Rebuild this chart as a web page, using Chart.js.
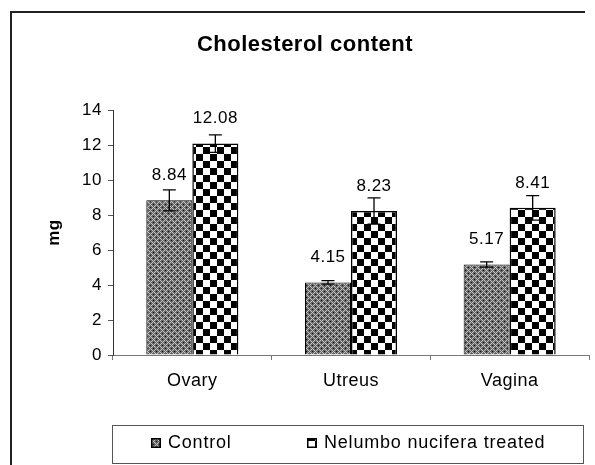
<!DOCTYPE html>
<html>
<head>
<meta charset="utf-8">
<script src="https://cdn.jsdelivr.net/npm/chart.js@4.4.0/dist/chart.umd.min.js"></script>
<style>
  html, body { margin: 0; padding: 0; background: #fff; }
</style>
</head>
<body>
<canvas id="myChart" width="595" height="465"></canvas>
<script>
const categories = ['Ovary', 'Utreus', 'Vagina'];
const seriesNames = ['Control', 'Nelumbo nucifera treated'];
const controlValues = [8.84, 4.15, 5.17];
const treatedValues = [12.08, 8.23, 8.41];
const controlErrors = [0.6, 0.1, 0.15];
const treatedErrors = [0.5, 0.75, 0.7];
const yTicks = [0, 2, 4, 6, 8, 10, 12, 14];
const chartTitle = 'Cholesterol content';
const yAxisLabel = 'mg';

const FONT = 'Liberation Sans, Arial, sans-serif';

// small tiles used as bar fills
function makePattern(size, paint) {
    const tile = document.createElement('canvas');
    tile.width = size;
    tile.height = size;
    paint(tile.getContext('2d'), size);
    return tile.getContext('2d').createPattern(tile, 'repeat');
}

const checkerFill = makePattern(14, (g) => {
    g.fillStyle = '#fff';
    g.fillRect(0, 0, 14, 14);
    g.fillStyle = '#000';
    g.fillRect(0, 0, 7, 7);
    g.fillRect(7, 7, 7, 7);
});

const hatchFill = makePattern(6, (g, n) => {
    for (let x = 0; x < n; x++) {
        for (let y = 0; y < n; y++) {
            const d1 = (x + y) % n;
            const d2 = (x - y + n) % n;
            let c = '#666';
            if (d1 === 0 || d2 === 0) c = '#c0c0c0';
            else if (d1 === 3 && d2 === 3) c = '#111';
            g.fillStyle = c;
            g.fillRect(x, y, 1, 1);
        }
    }
});

const errors = [controlErrors, treatedErrors];

const extras = {
    id: 'extras',
    beforeDraw(chart) {
        chart.ctx.letterSpacing = '0.5px';
    },
    afterDatasetsDraw(chart) {
        const ctx = chart.ctx;
        const y = chart.scales.y;
        ctx.save();
        chart.data.datasets.forEach((ds, di) => {
            chart.getDatasetMeta(di).data.forEach((bar, i) => {
                const v = ds.data[i];
                const e = errors[di][i];
                const top = y.getPixelForValue(v + e);
                const bot = y.getPixelForValue(v - e);
                ctx.strokeStyle = '#000';
                ctx.lineWidth = 1.3;
                ctx.beginPath();
                ctx.moveTo(bar.x, top);
                ctx.lineTo(bar.x, bot);
                ctx.moveTo(bar.x - 6.5, top);
                ctx.lineTo(bar.x + 6.5, top);
                ctx.moveTo(bar.x - 6.5, bot);
                ctx.lineTo(bar.x + 6.5, bot);
                ctx.stroke();

                ctx.fillStyle = '#000';
                ctx.font = '17px ' + FONT;
                ctx.textAlign = 'center';
                ctx.textBaseline = 'middle';
                ctx.fillText(v.toFixed(2), bar.x, bar.y - 25);
            });
        });
        ctx.restore();
    },
    afterDraw(chart) {
        const ctx = chart.ctx;
        ctx.save();
        // outer frame (right and bottom edges are cut off in the source)
        ctx.strokeStyle = '#222';
        ctx.lineWidth = 2;
        ctx.beginPath();
        ctx.moveTo(11, 470);
        ctx.lineTo(11, 12);
        ctx.lineTo(585, 12);
        ctx.stroke();

        ctx.fillStyle = '#000';
        ctx.font = 'bold 22px ' + FONT;
        ctx.letterSpacing = '0.5px';
        ctx.textAlign = 'center';
        ctx.textBaseline = 'middle';
        ctx.fillText(chartTitle, 305, 45);

        // legend box
        ctx.strokeStyle = '#555';
        ctx.lineWidth = 1;
        ctx.strokeRect(112.5, 425.5, 471, 38);
        const markX = [151, 307];
        ctx.font = '18px ' + FONT;
        ctx.letterSpacing = '0.8px';
        ctx.textAlign = 'left';
        chart.data.datasets.forEach((ds, di) => {
            ctx.fillStyle = ds.backgroundColor;
            ctx.fillRect(markX[di], 438, 10, 10);
            ctx.strokeStyle = '#000';
            ctx.lineWidth = 1.5;
            ctx.strokeRect(markX[di] + 0.75, 438.75, 8.5, 8.5);
            ctx.fillStyle = '#000';
            ctx.fillText(ds.label, markX[di] + 17, 443);
        });
        ctx.restore();
    }
};

const ctx = document.getElementById('myChart').getContext('2d');
new Chart(ctx, {
    type: 'bar',
    data: {
        labels: categories,
        datasets: [
            {
                label: seriesNames[0],
                data: controlValues,
                backgroundColor: hatchFill,
                borderColor: '#000',
                borderWidth: 1,
                categoryPercentage: 0.58,
                barPercentage: 1.0
            },
            {
                label: seriesNames[1],
                data: treatedValues,
                backgroundColor: checkerFill,
                borderColor: '#000',
                borderWidth: 1.5,
                categoryPercentage: 0.58,
                barPercentage: 1.0
            }
        ]
    },
    options: {
        responsive: false,
        animation: false,
        devicePixelRatio: 1,
        layout: { padding: { left: 30, right: 6, top: 110, bottom: 70 } },
        plugins: {
            legend: { display: false },
            title: { display: false },
            tooltip: { enabled: false }
        },
        scales: {
            x: {
                grid: { drawOnChartArea: false, offset: true, tickLength: 5, color: '#777' },
                border: { color: '#777', width: 1 },
                ticks: { color: '#000', font: { family: FONT, size: 18 }, padding: 10 },
                afterFit: (s) => { s.height = 40; }
            },
            y: {
                min: 0,
                max: 14,
                afterBuildTicks: (s) => { s.ticks = yTicks.map((v) => ({ value: v })); },
                grid: { drawOnChartArea: false, tickLength: 5, color: '#555' },
                border: { color: '#333', width: 1 },
                ticks: { color: '#000', font: { family: FONT, size: 17 }, padding: 6 },
                title: {
                    display: true,
                    text: yAxisLabel,
                    color: '#000',
                    font: { family: FONT, size: 17, weight: 'bold' },
                    padding: { top: 14, bottom: 0 }
                },
                afterFit: (s) => { s.width = 83; }
            }
        }
    },
    plugins: [extras]
});
</script>
</body>
</html>
